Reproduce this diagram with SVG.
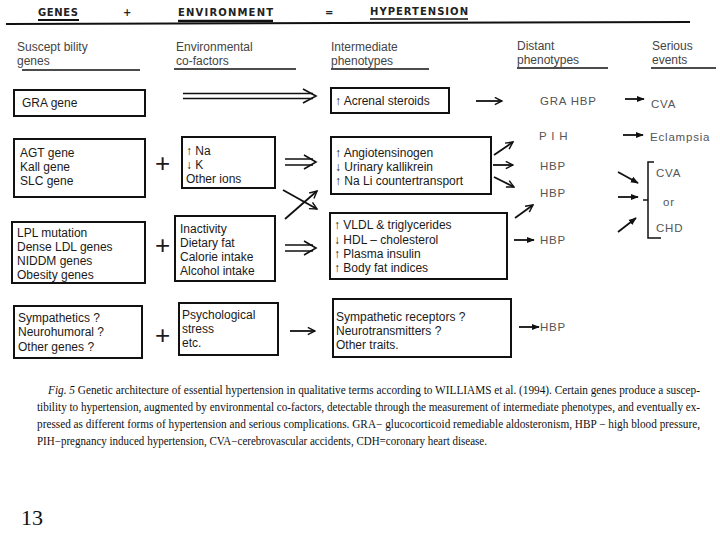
<svg xmlns="http://www.w3.org/2000/svg" width="720" height="540" viewBox="0 0 720 540">
<style>
.box{fill:#fff;stroke:#111;stroke-width:2}
.t{font-family:"Liberation Sans",Arial,sans-serif;font-size:12px;fill:#1a1a1a}
.plus{font-family:"Liberation Sans",Arial,sans-serif;font-size:26px;font-weight:300;fill:#1a1a1a}
.h{font-family:"Liberation Sans",Arial,sans-serif;font-size:12px;fill:#444}
.g{font-family:"Liberation Sans",Arial,sans-serif;font-size:11.5px;fill:#555;letter-spacing:0.8px}
.ti{font-family:"DejaVu Sans",sans-serif;font-weight:bold;font-size:10px;fill:#222}
.cap{font-family:"Liberation Serif","Times New Roman",serif;font-size:11.5px;fill:#111}
.ln{stroke:#111;fill:none}
.arr{stroke:#111;stroke-width:1.8;fill:none}
</style>
<defs>
<marker id="tri" viewBox="0 0 10 10" refX="9" refY="5" markerWidth="8" markerHeight="8" markerUnits="userSpaceOnUse" orient="auto"><path d="M0,1 L10,5 L0,9 z" fill="#111"/></marker>
<marker id="chev" viewBox="0 0 10 10" refX="9" refY="5" markerWidth="9" markerHeight="9" markerUnits="userSpaceOnUse" orient="auto"><path d="M1,1 L9,5 L1,9" fill="none" stroke="#111" stroke-width="1.6"/></marker>
</defs>
<rect width="720" height="540" fill="#fff"/>

<g id="title">
<text class="ti" x="38" y="16" textLength="40">GENES</text>
<text class="ti" x="123" y="16">+</text>
<text class="ti" x="178" y="16" textLength="95">ENVIRONMENT</text>
<text class="ti" x="325" y="16">=</text>
<text class="ti" x="370" y="15" textLength="98">HYPERTENSION</text>
<path class="ln" stroke-width="2" d="M38,20 H79"/>
<path class="ln" stroke-width="2.5" d="M178,21 H273"/>
<path class="ln" stroke-width="1.5" d="M370,19 H468"/>
<path class="ln" stroke-width="2" d="M6,24 L690,22"/>
</g>

<g id="headers">
<text class="h" x="17" y="51">Suscept bility</text><text class="h" x="17" y="65">genes</text>
<path class="ln" stroke-width="1.5" d="M22,70 H140"/>
<text class="h" x="176" y="51">Environmental</text><text class="h" x="176" y="65">co-factors</text>
<path class="ln" stroke-width="1.5" d="M174,69 H296"/>
<text class="h" x="331" y="51">Intermediate</text><text class="h" x="331" y="65">phenotypes</text>
<path class="ln" stroke-width="1.5" d="M331,69 H429"/>
<text class="h" x="517" y="50">Distant</text><text class="h" x="517" y="64">phenotypes</text>
<path class="ln" stroke-width="1.5" d="M517,68 H608"/>
<text class="h" x="652" y="50">Serious</text><text class="h" x="652" y="64">events</text>
<path class="ln" stroke-width="1.5" d="M651,68 H716"/>
</g>

<g id="gra-gene"><rect class="box" x="14" y="90" width="131" height="26"/><text class="t" x="22" y="107">GRA gene</text></g>
<g id="agt-genes"><rect class="box" x="14" y="139" width="131" height="58"/>
<text class="t" x="20" y="157">AGT gene</text><text class="t" x="20" y="171">Kall gene</text><text class="t" x="20" y="185">SLC gene</text></g>
<g id="plus1"><text class="plus" x="155" y="172">+</text></g>
<g id="ions"><rect class="box" x="182" y="137" width="93" height="51"/>
<text class="t" x="186" y="155">↑ Na</text><text class="t" x="186" y="169">↓ K</text><text class="t" x="186" y="183">Other ions</text></g>
<g id="adrenal"><rect class="box" x="331" y="88" width="118" height="25"/><text class="t" x="335" y="105">↑ Acrenal steroids</text></g>
<g id="angio"><rect class="box" x="331" y="137" width="160" height="57"/>
<text class="t" x="335" y="157">↑ Angiotensinogen</text><text class="t" x="335" y="171">↓ Urinary kallikrein</text><text class="t" x="335" y="185">↑ Na Li countertransport</text></g>

<g id="lpl"><rect class="box" x="12" y="222" width="133" height="61"/>
<text class="t" x="17" y="237">LPL mutation</text><text class="t" x="17" y="251">Dense LDL genes</text><text class="t" x="17" y="265">NIDDM genes</text><text class="t" x="17" y="279">Obesity genes</text></g>
<g id="plus2"><text class="plus" x="155" y="254">+</text></g>
<g id="lifestyle"><rect class="box" x="175" y="216" width="100" height="65"/>
<text class="t" x="180" y="233">Inactivity</text><text class="t" x="180" y="247">Dietary fat</text><text class="t" x="180" y="261">Calorie intake</text><text class="t" x="180" y="275">Alcohol intake</text></g>
<g id="vldl"><rect class="box" x="330" y="213" width="177" height="66"/>
<text class="t" x="334" y="229">↑ VLDL &amp; triglycerides</text><text class="t" x="334" y="244">↓ HDL – cholesterol</text><text class="t" x="334" y="258">↑ Plasma insulin</text><text class="t" x="334" y="272">↑ Body fat indices</text></g>

<g id="sympathetics"><rect class="box" x="14" y="306" width="128" height="52"/>
<text class="t" x="18" y="322">Sympathetics ?</text><text class="t" x="18" y="336">Neurohumoral ?</text><text class="t" x="18" y="351">Other genes ?</text></g>
<g id="plus3"><text class="plus" x="155" y="344">+</text></g>
<g id="stress"><rect class="box" x="179" y="303" width="99" height="52"/>
<text class="t" x="182" y="319">Psychological</text><text class="t" x="182" y="333">stress</text><text class="t" x="182" y="347">etc.</text></g>
<g id="receptors"><rect class="box" x="333" y="299" width="178" height="58"/>
<text class="t" x="336" y="321">Sympathetic receptors ?</text><text class="t" x="336" y="335">Neurotransmitters ?</text><text class="t" x="336" y="349">Other traits.</text></g>

<g id="distant">
<text class="g" x="540" y="105">GRA HBP</text>
<text class="g" x="539" y="140">P I H</text>
<text class="g" x="540" y="170">HBP</text>
<text class="g" x="540" y="197">HBP</text>
<text class="g" x="540" y="244">HBP</text>
<text class="g" x="540" y="331">HBP</text>
</g>
<g id="events">
<text class="g" x="651" y="108">CVA</text>
<text class="g" x="650" y="141">Eclampsia</text>
<text class="g" x="656" y="177">CVA</text>
<text class="g" x="663" y="206">or</text>
<text class="g" x="656" y="232">CHD</text>
<path class="ln" stroke-width="1.5" d="M654,162 H648 V238 H661 M643,200 H648"/>
</g>

<g id="connectors">
<path class="ln" stroke-width="1.5" d="M183,93.5 H313 M183,98.5 H313"/>
<path class="ln" stroke-width="1.6" d="M303,89 L316,96 L303,103"/>
<path class="ln" stroke-width="1.5" d="M285,159 H313 M285,165 H313"/>
<path class="ln" stroke-width="1.6" d="M304,155 L316,162 L304,169"/>
<path class="ln" stroke-width="1.5" d="M285,245 H313 M285,251 H313"/>
<path class="ln" stroke-width="1.6" d="M304,241 L316,248 L304,255"/>
<path class="arr" d="M283,190 L317,209" marker-end="url(#chev)"/>
<path class="arr" d="M285,219 L317,191" marker-end="url(#chev)"/>
<path class="arr" d="M476,101 H502" marker-end="url(#chev)"/>
<path class="arr" d="M290,331 H315" marker-end="url(#chev)"/>
<path class="arr" d="M494,155 L513,142" marker-end="url(#chev)"/>
<path class="arr" d="M493,165 H513" marker-end="url(#chev)"/>
<path class="arr" d="M494,177 L514,187" marker-end="url(#chev)"/>
<path class="arr" d="M515,218 L533,205" marker-end="url(#chev)"/>
<path class="arr" d="M514,240 H534" marker-end="url(#tri)"/>
<path class="arr" d="M519,327 H539" marker-end="url(#tri)"/>
<path class="arr" d="M625,99 H644" marker-end="url(#tri)"/>
<path class="arr" d="M623,135 H643" marker-end="url(#tri)"/>
<path class="arr" d="M618,172 L638,183" marker-end="url(#tri)"/>
<path class="arr" d="M618,197 H638" marker-end="url(#tri)"/>
<path class="arr" d="M618,232 L636,218" marker-end="url(#tri)"/>
</g>

<g id="caption">
<text class="cap" x="48" y="394" textLength="652" lengthAdjust="spacingAndGlyphs"><tspan font-style="italic">Fig. 5</tspan> Genetic architecture of essential hypertension in qualitative terms according to WILLIAMS et al. (1994). Certain genes produce a suscep-</text>
<text class="cap" x="37" y="411" textLength="663" lengthAdjust="spacingAndGlyphs">tibility to hypertension, augmented by environmental co-factors, detectable through the measurement of intermediate phenotypes, and eventually ex-</text>
<text class="cap" x="37" y="428" textLength="663" lengthAdjust="spacingAndGlyphs">pressed as different forms of hypertension and serious complications. GRA− glucocorticoid remediable aldosteronism, HBP − high blood pressure,</text>
<text class="cap" x="37" y="445" textLength="450" lengthAdjust="spacingAndGlyphs">PIH−pregnancy induced hypertension, CVA−cerebrovascular accidents, CDH=coronary heart disease.</text>
</g>
<g id="page-number"><text x="21" y="525" font-family="Liberation Serif, serif" font-size="22" fill="#111">13</text></g>
</svg>
